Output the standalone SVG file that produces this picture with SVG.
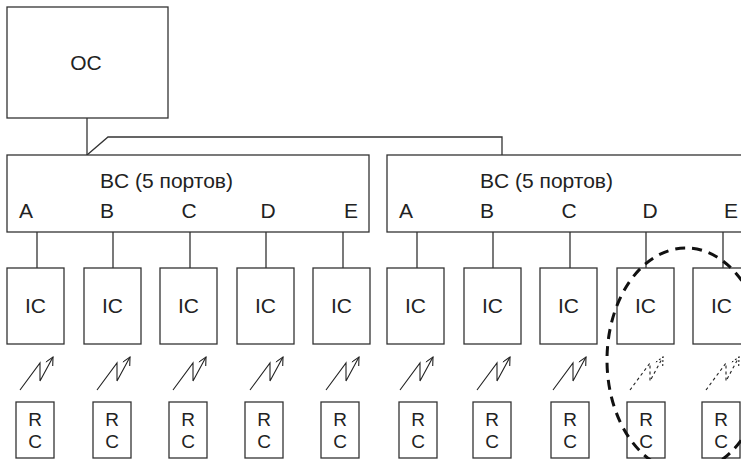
<svg xmlns="http://www.w3.org/2000/svg" width="741" height="459" viewBox="0 0 741 459">
<defs>
<style>
.box{fill:#fff;stroke:#333;stroke-width:1.3}
.ln{fill:none;stroke:#333;stroke-width:1.3}
.t{font-family:"Liberation Sans",Arial,sans-serif;font-size:21px;fill:#222}
.rc{font-size:19px}
.m{text-anchor:middle}
.bolt{fill:none;stroke:#222;stroke-width:1.1}
.dbolt{fill:none;stroke:#222;stroke-width:1.1;stroke-dasharray:3 3}
.ell{fill:none;stroke:#111;stroke-width:3;stroke-dasharray:10 7}
</style>
<marker id="ah" markerWidth="12" markerHeight="12" refX="9" refY="4" orient="auto" markerUnits="userSpaceOnUse">
<path d="M1,0 L9,4 L1,8" fill="none" stroke="#222" stroke-width="1.1"/>
</marker>
<marker id="ahd" markerWidth="12" markerHeight="12" refX="9" refY="4" orient="auto" markerUnits="userSpaceOnUse">
<path d="M1,0 L9,4 L1,8" fill="none" stroke="#222" stroke-width="1.1" stroke-dasharray="2 2"/>
</marker>
<path id="boltp" d="M20,390 L40,363 L40,381 L53,357"/>
</defs>

<g id="connectors">
<path class="ln" d="M87,118 V155"/>
<path class="ln" d="M87,155 L108,137 H502 V155"/>
<path class="ln" d="M37,232 V268 M113,232 V268 M190,232 V268 M266,232 V268 M343,232 V268"/>
<path class="ln" d="M417,232 V268 M493,232 V268 M570,232 V268 M646,232 V268 M723,232 V268"/>
</g>

<g id="OC">
<rect class="box" x="7" y="7" width="161" height="111"/>
<text class="t m" x="86" y="70">OC</text>
</g>

<g id="BC1">
<rect class="box" x="7" y="155" width="362" height="77"/>
<text class="t" x="100" y="188">BC (5 портов)</text>
<text class="t m" x="26" y="218">A</text>
<text class="t m" x="107" y="218">B</text>
<text class="t m" x="189" y="218">C</text>
<text class="t m" x="268" y="218">D</text>
<text class="t m" x="351" y="218">E</text>
</g>

<g id="BC2">
<rect class="box" x="387" y="155" width="370" height="77"/>
<text class="t" x="480" y="188">BC (5 портов)</text>
<text class="t m" x="406" y="218">A</text>
<text class="t m" x="487" y="218">B</text>
<text class="t m" x="569" y="218">C</text>
<text class="t m" x="650" y="218">D</text>
<text class="t m" x="731" y="218">E</text>
</g>

<g id="IC1"><rect class="box" x="7" y="268" width="57" height="76"/><text class="t m" x="35.5" y="313">IC</text></g>
<g id="IC2"><rect class="box" x="84" y="268" width="57" height="76"/><text class="t m" x="112.5" y="313">IC</text></g>
<g id="IC3"><rect class="box" x="160" y="268" width="57" height="76"/><text class="t m" x="188.5" y="313">IC</text></g>
<g id="IC4"><rect class="box" x="237" y="268" width="57" height="76"/><text class="t m" x="265.5" y="313">IC</text></g>
<g id="IC5"><rect class="box" x="313" y="268" width="57" height="76"/><text class="t m" x="341.5" y="313">IC</text></g>
<g id="IC6"><rect class="box" x="387" y="268" width="57" height="76"/><text class="t m" x="415.5" y="313">IC</text></g>
<g id="IC7"><rect class="box" x="464" y="268" width="57" height="76"/><text class="t m" x="492.5" y="313">IC</text></g>
<g id="IC8"><rect class="box" x="540" y="268" width="57" height="76"/><text class="t m" x="568.5" y="313">IC</text></g>
<g id="IC9"><rect class="box" x="617" y="268" width="57" height="76"/><text class="t m" x="645.5" y="313">IC</text></g>
<g id="IC10"><rect class="box" x="693" y="268" width="57" height="76"/><text class="t m" x="721.5" y="313">IC</text></g>

<g id="links">
<use href="#boltp" class="bolt" marker-end="url(#ah)"/>
<use href="#boltp" class="bolt" marker-end="url(#ah)" transform="translate(77,0)"/>
<use href="#boltp" class="bolt" marker-end="url(#ah)" transform="translate(153,0)"/>
<use href="#boltp" class="bolt" marker-end="url(#ah)" transform="translate(230,0)"/>
<use href="#boltp" class="bolt" marker-end="url(#ah)" transform="translate(306,0)"/>
<use href="#boltp" class="bolt" marker-end="url(#ah)" transform="translate(380,0)"/>
<use href="#boltp" class="bolt" marker-end="url(#ah)" transform="translate(457,0)"/>
<use href="#boltp" class="bolt" marker-end="url(#ah)" transform="translate(533,0)"/>
<use href="#boltp" class="dbolt" marker-end="url(#ahd)" transform="translate(610,0)"/>
<use href="#boltp" class="dbolt" marker-end="url(#ahd)" transform="translate(686,0)"/>
</g>

<g id="RC1"><rect class="box" x="16" y="402" width="38" height="56"/><text class="t rc m" x="35" y="426">R</text><text class="t rc m" x="35" y="448">C</text></g>
<g id="RC2"><rect class="box" x="93" y="402" width="38" height="56"/><text class="t rc m" x="112" y="426">R</text><text class="t rc m" x="112" y="448">C</text></g>
<g id="RC3"><rect class="box" x="169" y="402" width="38" height="56"/><text class="t rc m" x="188" y="426">R</text><text class="t rc m" x="188" y="448">C</text></g>
<g id="RC4"><rect class="box" x="245" y="402" width="38" height="56"/><text class="t rc m" x="264" y="426">R</text><text class="t rc m" x="264" y="448">C</text></g>
<g id="RC5"><rect class="box" x="321" y="402" width="38" height="56"/><text class="t rc m" x="340" y="426">R</text><text class="t rc m" x="340" y="448">C</text></g>
<g id="RC6"><rect class="box" x="399" y="402" width="38" height="56"/><text class="t rc m" x="418" y="426">R</text><text class="t rc m" x="418" y="448">C</text></g>
<g id="RC7"><rect class="box" x="473" y="402" width="38" height="56"/><text class="t rc m" x="492" y="426">R</text><text class="t rc m" x="492" y="448">C</text></g>
<g id="RC8"><rect class="box" x="551" y="402" width="38" height="56"/><text class="t rc m" x="570" y="426">R</text><text class="t rc m" x="570" y="448">C</text></g>
<g id="RC9"><rect class="box" x="627" y="402" width="38" height="56"/><text class="t rc m" x="646" y="426">R</text><text class="t rc m" x="646" y="448">C</text></g>
<g id="RC10"><rect class="box" x="702" y="402" width="38" height="56"/><text class="t rc m" x="721" y="426">R</text><text class="t rc m" x="721" y="448">C</text></g>

<g id="group-outline">
<ellipse class="ell" cx="686" cy="360" rx="79" ry="112"/>
</g>
</svg>
